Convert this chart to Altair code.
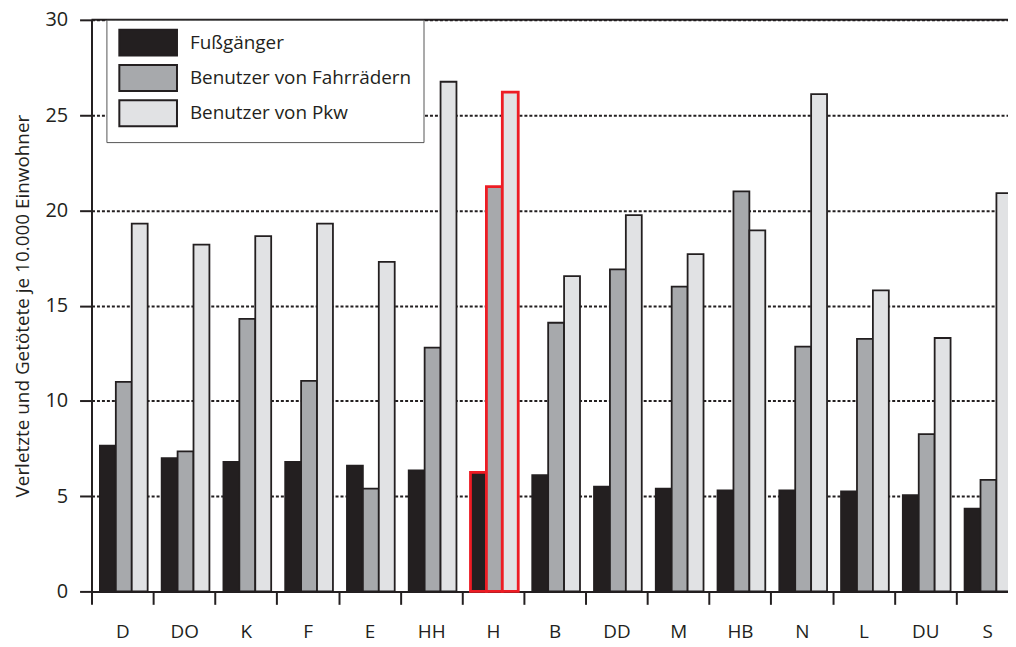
import altair as alt
import pandas as pd

# ---- data ----
staedte = ["D", "DO", "K", "F", "E", "HH", "H", "B", "DD", "M", "HB", "N", "L", "DU", "S"]
fussgaenger = [7.65, 7.0, 6.8, 6.8, 6.6, 6.35, 6.25, 6.1, 5.5, 5.4, 5.3, 5.3, 5.25, 5.05, 4.35]
fahrrad = [11.0, 7.35, 14.3, 11.05, 5.4, 12.8, 21.25, 14.1, 16.9, 16.0, 21.0, 12.85, 13.25, 8.25, 5.85]
pkw = [19.3, 18.2, 18.65, 19.3, 17.3, 26.75, 26.2, 16.55, 19.75, 17.7, 18.95, 26.1, 15.8, 13.3, 20.9]
gruppen = ["Fußgänger", "Benutzer von Fahrrädern", "Benutzer von Pkw"]
farben = ["#231f20", "#a7a9ac", "#e1e2e4"]
y_ticks = [0, 5, 10, 15, 20, 25, 30]
hervorgehoben = "H"

rows = []
for series, vals in zip(gruppen, [fussgaenger, fahrrad, pkw]):
    for s, v in zip(staedte, vals):
        rows.append({"Stadt": s, "Gruppe": series, "Wert": v})
df = pd.DataFrame(rows)

FONT = "Open Sans"
INK = "#231f20"
XRANGE = 932

yscale = alt.Scale(domain=[0, 30], nice=False)

bars = alt.Chart(df).mark_bar(strokeJoin="miter").encode(
    x=alt.X("Stadt:N", sort=staedte,
            scale=alt.Scale(domain=staedte, range=[0, XRANGE], paddingInner=0, paddingOuter=0),
            axis=alt.Axis(title=None, labelAngle=0, tickBand="extent", tickSize=13, tickWidth=2,
                          tickColor=INK, domainColor=INK, domainWidth=2, labelPadding=18,
                          labelFontSize=19, labelColor=INK, labelFont=FONT, grid=False)),
    xOffset=alt.XOffset("Gruppe:N", sort=gruppen,
                        scale=alt.Scale(domain=gruppen, paddingInner=0, paddingOuter=0.44, align=0.6)),
    y=alt.Y("Wert:Q", scale=yscale,
            axis=alt.Axis(title="Verletzte und Getötete je 10.000 Einwohner", values=y_ticks,
                          tickSize=12, tickWidth=2, tickColor=INK, domainColor=INK, domainWidth=2,
                          labelFontSize=20, labelColor=INK, labelFont=FONT, labelPadding=12,
                          titleFontSize=19, titleFont=FONT, titleColor=INK, titleFontWeight="normal",
                          titlePadding=13, grid=True, gridColor=INK, gridWidth=2,
                          gridDash=[3, 2])),
    fill=alt.Fill("Gruppe:N", sort=gruppen,
                  scale=alt.Scale(domain=gruppen, range=farben),
                  legend=alt.Legend(title=None, orient="none", legendX=15, legendY=0,
                                    symbolType="M-2.9,-1.3H2.9V1.3H-2.9Z", symbolSize=400,
                                    symbolOffset=19, labelOffset=31, rowPadding=1.5,
                                    symbolStrokeColor=INK, symbolStrokeWidth=2,
                                    symbolOpacity=1, labelFontSize=19, labelFont=FONT,
                                    labelColor=INK, labelLimit=400, padding=12,
                                    fillColor="white", strokeColor="#555555")),
    stroke=alt.condition(alt.datum.Stadt == hervorgehoben, alt.value("#ed1c24"), alt.value(INK)),
    strokeWidth=alt.condition(alt.datum.Stadt == hervorgehoben, alt.value(2.8), alt.value(1.8)),
)

top = alt.Chart(pd.DataFrame({"v": [30]})).mark_rule(color=INK, strokeWidth=2).encode(
    y=alt.Y("v:Q", scale=yscale),
    x=alt.value(0), x2=alt.value(XRANGE),
)

chart = alt.layer(bars, top).properties(
    width=922, height=575,
    autosize=alt.AutoSizeParams(type="none"),
    padding={"left": 84, "top": 10, "right": 0, "bottom": 50},
).configure(font=FONT).configure_view(stroke=None)

chart.save("out.html", embed_options={"renderer": "svg", "actions": False})
